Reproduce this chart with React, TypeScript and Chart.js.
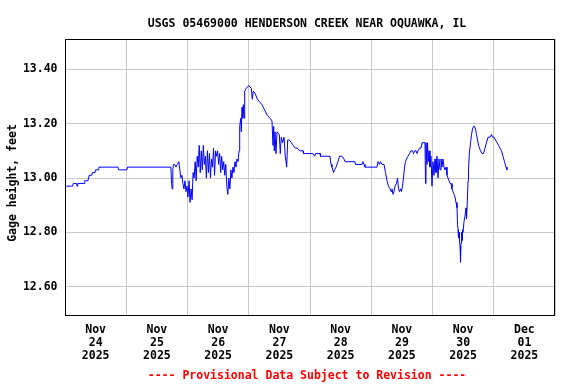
import { useEffect, useRef } from "react";
import { Chart, registerables } from "chart.js";

Chart.register(...registerables);

// ---- text ----
const TITLE = "USGS 05469000 HENDERSON CREEK NEAR OQUAWKA, IL";
const Y_LABEL = "Gage height, feet";
const FOOTER = "---- Provisional Data Subject to Revision ----";

// ---- axis labels (one per day, Nov 24 .. Dec 01, 2025) ----
const dayMonths = ["Nov", "Nov", "Nov", "Nov", "Nov", "Nov", "Nov", "Dec"];
const dayNumbers = ["24", "25", "26", "27", "28", "29", "30", "01"];
const dayYears = ["2025", "2025", "2025", "2025", "2025", "2025", "2025", "2025"];
const yTicks = [12.6, 12.8, 13.0, 13.2, 13.4];

// x = hours since Nov 24 2025 00:00
const X_MIN = 0;
const X_MAX = 192;
const Y_MIN = 12.4922;
const Y_MAX = 13.5115;

// ---- series: gage height (feet) ----
const earlyHours = [0, 3, 3.25, 4.5, 4.75, 5, 7.5, 7.75, 9, 9.25, 9.5, 10.5, 10.75, 11.75, 12, 13, 13.25, 20.75, 21, 24.25, 24.5, 41.5, 41.75, 42, 42.25, 42.5, 43, 43.5, 44, 44.6];
const earlyFeet = [12.97, 12.97, 12.98, 12.98, 12.97, 12.98, 12.98, 12.99, 12.99, 13.0, 13.01, 13.01, 13.02, 13.02, 13.03, 13.03, 13.04, 13.04, 13.03, 13.03, 13.04, 13.04, 12.98, 12.96, 13.03, 13.05, 13.05, 13.04, 13.05, 13.06];

// noisy readings Nov 25 21:00 -> Nov 26 20:00, one every 0.4 h
const noisyStartHour = 45.0;
const noisyStepHours = 0.4;
const noisyFeet = [13.03, 13.0, 13.01, 12.98, 12.96, 12.99, 12.95, 12.97, 12.93, 12.99, 12.91, 12.96, 12.92, 13.02, 13.0, 13.06, 12.99, 13.08, 13.04, 13.12, 13.02, 13.1, 13.03, 13.12, 13.05, 13.08, 13.0, 13.1, 13.02, 13.09, 13.0, 13.07, 13.04, 13.11, 13.01, 13.1, 13.08, 13.1, 13.05, 13.09, 13.02, 13.08, 13.03, 13.06, 13.01, 13.05, 12.97, 12.94, 13.0, 12.96, 13.03, 13.0, 13.04, 13.02, 13.06, 13.04, 13.07, 13.06, 13.1];

const lateHours = [68.45, 68.85, 69.08, 69.36, 69.63, 69.87, 70.14, 70.41, 71.04, 71.98, 73.0, 73.39, 73.78, 74.57, 75.35, 76.29, 77.19, 78.25, 79.27, 80.33, 81.11, 81.5, 81.78, 82.01, 82.29, 82.68, 83.07, 83.46, 83.97, 84.36, 84.75, 85.3, 85.81, 86.32, 86.87, 87.26, 87.89, 88.67, 89.46, 90.24, 91.03, 91.97, 93.26, 93.45, 97.18, 97.84, 98.16, 99.92, 100.1, 103.84, 104.23, 104.62, 105.21, 105.6, 106.19, 106.97, 107.56, 108.54, 109.32, 109.72, 113.63, 113.83, 116.38, 116.77, 117.16, 117.55, 122.25, 122.64, 123.23, 123.62, 124.21, 125.0, 125.59, 126.17, 126.76, 127.35, 127.74, 128.13, 128.52, 128.92, 129.31, 129.9, 130.29, 130.68, 131.07, 131.46, 131.85, 132.25, 132.64, 133.03, 133.42, 133.81, 134.4, 134.99, 135.58, 136.16, 136.56, 136.95, 137.54, 137.93, 138.32, 138.91, 139.49, 139.89, 141.06, 141.26, 141.45, 141.84, 142.04, 142.35, 142.63, 143.02, 143.41, 143.8, 144.2, 144.59, 144.98, 145.37, 145.76, 146.16, 146.55, 146.94, 147.33, 147.72, 148.12, 148.51, 148.9, 149.29, 149.68, 150.08, 150.47, 150.86, 151.25, 151.64, 152.04, 152.43, 152.82, 153.21, 153.6, 153.8, 154.0, 154.19, 154.39, 154.58, 154.78, 154.98, 155.17, 155.37, 155.56, 155.76, 155.96, 156.35, 156.74, 157.13, 157.33, 157.72, 157.92, 158.11, 158.43, 158.9, 159.29, 159.68, 160.08, 160.47, 160.86, 161.25, 161.64, 162.04, 162.43, 162.82, 163.4, 163.99, 164.57, 165.16, 165.75, 166.53, 167.12, 167.51, 168.1, 168.69, 169.28, 169.87, 170.45, 171.04, 171.63, 172.22, 172.8, 173.19];
const lateFeet = [13.19, 13.22, 13.17, 13.26, 13.22, 13.27, 13.22, 13.32, 13.33, 13.34, 13.33, 13.29, 13.32, 13.31, 13.29, 13.28, 13.27, 13.25, 13.23, 13.22, 13.21, 13.12, 13.19, 13.1, 13.17, 13.09, 13.17, 13.17, 13.16, 13.09, 13.15, 13.13, 13.15, 13.08, 13.04, 13.14, 13.14, 13.13, 13.12, 13.11, 13.11, 13.1, 13.1, 13.09, 13.09, 13.08, 13.09, 13.09, 13.08, 13.08, 13.05, 13.04, 13.02, 13.03, 13.04, 13.06, 13.08, 13.08, 13.07, 13.06, 13.06, 13.05, 13.05, 13.06, 13.05, 13.04, 13.04, 13.06, 13.05, 13.06, 13.05, 13.05, 13.02, 12.99, 12.97, 12.96, 12.95, 12.96, 12.94, 12.95, 12.97, 12.98, 13.0, 12.96, 12.95, 12.96, 12.95, 12.97, 13.0, 13.04, 13.06, 13.07, 13.08, 13.09, 13.1, 13.1, 13.09, 13.1, 13.1, 13.09, 13.1, 13.11, 13.11, 13.13, 13.13, 12.98, 13.13, 13.05, 13.13, 13.06, 13.1, 13.04, 13.08, 12.97, 13.06, 13.01, 13.07, 13.02, 13.08, 13.0, 13.07, 13.03, 13.07, 13.04, 13.07, 13.04, 13.03, 13.04, 13.01, 13.0, 12.99, 12.98, 12.98, 12.96, 12.95, 12.94, 12.93, 12.91, 12.89, 12.83, 12.81, 12.78, 12.8, 12.77, 12.75, 12.69, 12.76, 12.8, 12.77, 12.81, 12.8, 12.84, 12.86, 12.89, 12.85, 12.93, 12.99, 13.03, 13.09, 13.13, 13.16, 13.18, 13.19, 13.19, 13.18, 13.16, 13.14, 13.12, 13.11, 13.1, 13.09, 13.09, 13.11, 13.13, 13.15, 13.15, 13.16, 13.15, 13.15, 13.14, 13.13, 13.12, 13.11, 13.1, 13.08, 13.06, 13.04, 13.03];

const FONT_FAMILY = '"DejaVu Sans Mono", monospace';
const GRID = "#c8c8c8";

function buildPoints() {
  const pts: { x: number; y: number }[] = [];
  earlyHours.forEach((h, i) => pts.push({ x: h, y: earlyFeet[i] }));
  noisyFeet.forEach((v, i) => pts.push({ x: noisyStartHour + i * noisyStepHours, y: v }));
  lateHours.forEach((h, i) => pts.push({ x: h, y: lateFeet[i] }));
  return pts;
}

const framePlugin = {
  id: "frameAndText",
  afterDraw(chart: any) {
    const { ctx, chartArea } = chart;
    const { left, right, top, bottom } = chartArea;
    ctx.save();
    ctx.strokeStyle = "#000";
    ctx.lineWidth = 1;
    ctx.strokeRect(left + 0.5, top + 0.5, right - left - 1, bottom - top - 1);

    ctx.font = `bold 11.5px ${FONT_FAMILY}`;
    ctx.textAlign = "center";
    ctx.textBaseline = "alphabetic";
    ctx.fillStyle = "#000";
    ctx.fillText(TITLE, 307, 26.5);

    ctx.fillStyle = "#ff0000";
    ctx.fillText(FOOTER, 307, 378.5);

    ctx.fillStyle = "#000";
    ctx.translate(15.5, 183);
    ctx.rotate(-Math.PI / 2);
    ctx.fillText(Y_LABEL, 0, 0);
    ctx.restore();
  },
};

export default function App() {
  const ref = useRef<HTMLCanvasElement>(null);
  useEffect(() => {
    const canvas = ref.current;
    if (!canvas) return;
    const tickFont = { family: FONT_FAMILY, size: 11.5, weight: "bold" as const, lineHeight: 1.12 };
    const chart = new Chart(canvas, {
      type: "line",
      data: {
        datasets: [
          {
            data: buildPoints(),
            borderColor: "#0000ff",
            borderWidth: 1,
            pointRadius: 0,
            tension: 0,
            fill: false,
          },
        ],
      },
      options: {
        responsive: false,
        animation: false,
        devicePixelRatio: 1,
        layout: { padding: { top: 39, right: 21, bottom: 18, left: 0 } },
        plugins: {
          legend: { display: false },
          tooltip: { enabled: false },
          title: { display: false },
        },
        scales: {
          x: {
            type: "linear",
            min: X_MIN,
            max: X_MAX,
            afterBuildTicks: (scale: any) => {
              const t = [];
              for (let h = X_MIN; h <= X_MAX; h += 12) t.push({ value: h });
              scale.ticks = t;
            },
            afterFit: (scale: any) => {
              scale.height = 50;
            },
            grid: {
              color: (c: any) => (c.tick && c.tick.value % 24 === 0 ? GRID : "rgba(0,0,0,0)"),
              lineWidth: 1,
              drawTicks: false,
            },
            border: { display: false },
            ticks: {
              autoSkip: false,
              maxRotation: 0,
              minRotation: 0,
              padding: 7.5,
              color: "#000",
              font: tickFont,
              callback: (value: any) => {
                const v = Number(value);
                if (v % 24 !== 12) return "";
                const d = (v - 12) / 24;
                return [dayMonths[d], dayNumbers[d], dayYears[d]];
              },
            },
          },
          y: {
            type: "linear",
            min: Y_MIN,
            max: Y_MAX,
            afterBuildTicks: (scale: any) => {
              scale.ticks = yTicks.map((v) => ({ value: v }));
            },
            afterFit: (scale: any) => {
              scale.width = 65;
            },
            grid: { color: GRID, lineWidth: 1, drawTicks: false },
            border: { display: false },
            ticks: {
              padding: 7.5,
              color: "#000",
              font: tickFont,
              callback: (value: any) => Number(value).toFixed(2),
            },
          },
        },
      },
      plugins: [framePlugin],
    });
    return () => chart.destroy();
  }, []);
  return (
    <canvas
      ref={ref}
      width={576}
      height={384}
      style={{ position: "absolute", left: 0, top: 0, width: 576, height: 384 }}
    />
  );
}
